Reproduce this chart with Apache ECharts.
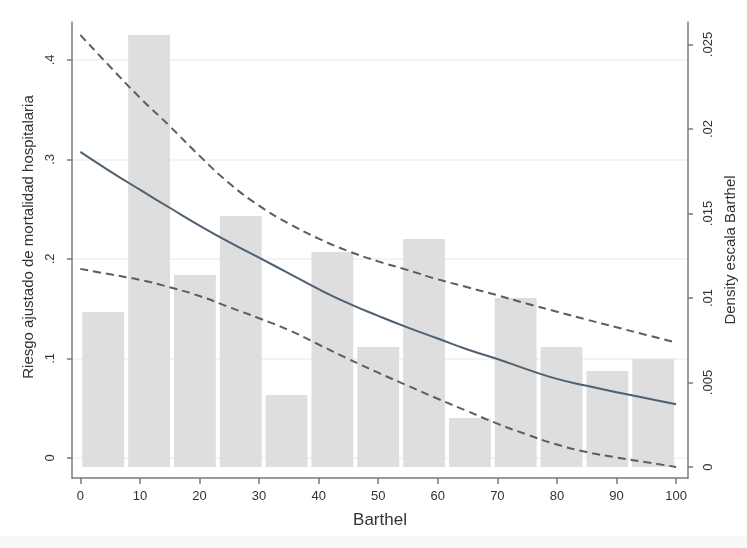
<!DOCTYPE html>
<html>
<head>
<meta charset="utf-8">
<script src="https://cdn.jsdelivr.net/npm/echarts@6/dist/echarts.min.js"></script>
<style>
html,body{margin:0;padding:0;background:#fff;}
#c{width:747px;height:548px;}
</style>
</head>
<body>
<div id="c"></div>
<script>
// Histogram bins of Barthel (13 bins, 0-100)
const binEdges = [0, 7.69, 15.38, 23.08, 30.77, 38.46, 46.15, 53.85, 61.54, 69.23, 76.92, 84.62, 92.31, 100];
const density = [0.00917, 0.02556, 0.01136, 0.01485, 0.00426, 0.01272, 0.0071, 0.01349, 0.0029, 0.0100, 0.0071, 0.00568, 0.00639];

// Adjusted risk curve and confidence bounds (read every 5 Barthel points)
const barthel = [0, 5, 10, 15, 20, 25, 30, 35, 40, 45, 50, 55, 60, 65, 70, 75, 80, 85, 90, 95, 100];
const riskFit = [0.3075, 0.288, 0.2695, 0.2514, 0.2335, 0.2168, 0.2012, 0.1855, 0.1696, 0.1553, 0.1428, 0.131, 0.120, 0.109, 0.0995, 0.089, 0.0795, 0.0725, 0.066, 0.060, 0.054];
const riskUpper = [0.425, 0.393, 0.362, 0.3334, 0.3036, 0.276, 0.2535, 0.2355, 0.2204, 0.2078, 0.1975, 0.1887, 0.1795, 0.1715, 0.1635, 0.155, 0.147, 0.139, 0.1313, 0.1236, 0.116];
const riskLower = [0.190, 0.1845, 0.179, 0.1715, 0.1627, 0.1515, 0.1404, 0.1285, 0.114, 0.0995, 0.0857, 0.0725, 0.0595, 0.047, 0.0345, 0.0235, 0.0135, 0.006, 0.0005, -0.0043, -0.009];

// Tick labels
const xTicks = [0, 10, 20, 30, 40, 50, 60, 70, 80, 90, 100];
const leftTicks = [0, 0.1, 0.2, 0.3, 0.4];
const rightTicks = [0, 0.005, 0.01, 0.015, 0.02, 0.025];

const fmt = v => (v === 0 ? '0' : String(v).replace(/^0\./, '.'));

const bars = density.map((d, i) => [binEdges[i], binEdges[i + 1], d]);
const pairs = arr => barthel.map((x, i) => [x, arr[i]]);

const chart = echarts.init(document.getElementById('c'));
const txt = '#333';
const axisCol = '#7a7a7a';
const FONT = 'Liberation Sans, Arial, sans-serif';

chart.setOption({
  animation: false,
  backgroundColor: '#fff',
  graphic: [
    { type: 'rect', left: 0, top: 536, shape: { width: 747, height: 12 }, style: { fill: '#f8f8f8' }, silent: true, z: -10 }
  ],
  grid: { left: 72, right: 59, top: 22, bottom: 70, containLabel: false },
  xAxis: {
    type: 'value', min: -1.4, max: 102,
    name: 'Barthel', nameLocation: 'middle', nameGap: 34,
    nameTextStyle: { fontSize: 17, color: txt, fontFamily: FONT },
    axisLine: { show: true, onZero: false, lineStyle: { color: axisCol, width: 1.5 } },
    axisTick: { show: true, length: 6, lineStyle: { color: axisCol, width: 1.5 }, customValues: xTicks },
    axisLabel: { fontSize: 13, color: txt, fontFamily: FONT, margin: 12, customValues: xTicks, formatter: v => String(v) },
    splitLine: { show: false }
  },
  yAxis: [
    {
      type: 'value', min: -0.0201, max: 0.438, position: 'left',
      name: 'Riesgo ajustado de mortalidad hospitalaria', nameLocation: 'middle', nameGap: 32,
      nameTextStyle: { fontSize: 15, color: txt, fontFamily: FONT, padding: [0, 0, 0, 26] },
      axisLine: { show: true, onZero: false, lineStyle: { color: axisCol, width: 1.5 } },
      axisTick: { show: true, length: 5, lineStyle: { color: axisCol, width: 1.5 }, customValues: leftTicks },
      axisLabel: { fontSize: 13, color: txt, fontFamily: FONT, rotate: 90, margin: 15, customValues: leftTicks, formatter: fmt },
      splitLine: { show: true, lineStyle: { color: '#efefef', width: 1.5 } }
    },
    {
      type: 'value', min: -0.00065, max: 0.02633, position: 'right',
      name: 'Density escala Barthel', nameLocation: 'middle', nameGap: 23, nameRotate: 90,
      nameTextStyle: { fontSize: 15, color: txt, fontFamily: FONT },
      axisLine: { show: true, onZero: false, lineStyle: { color: axisCol, width: 1.5 } },
      axisTick: { show: true, length: 5, lineStyle: { color: axisCol, width: 1.5 }, customValues: rightTicks },
      axisLabel: { fontSize: 13, color: txt, fontFamily: FONT, rotate: 90, margin: 14, customValues: rightTicks, formatter: fmt },
      splitLine: { show: false }
    }
  ],
  series: [
    {
      type: 'custom', yAxisIndex: 1, data: bars, encode: { x: [0, 1], y: 2 },
      renderItem: (params, api) => {
        const p0 = api.coord([api.value(0), api.value(2)]);
        const p1 = api.coord([api.value(1), 0]);
        return { type: 'rect', shape: { x: p0[0] + 2, y: p0[1], width: p1[0] - p0[0] - 4, height: p1[1] - p0[1] },
                 style: { fill: '#dedede' } };
      },
      z: 1
    },
    { type: 'line', yAxisIndex: 0, data: pairs(riskUpper), smooth: true, symbol: 'none',
      lineStyle: { color: '#5a5e64', width: 2, type: [8, 5] }, z: 3 },
    { type: 'line', yAxisIndex: 0, data: pairs(riskLower), smooth: true, symbol: 'none',
      lineStyle: { color: '#5a5e64', width: 2, type: [8, 5] }, z: 3 },
    { type: 'line', yAxisIndex: 0, data: pairs(riskFit), smooth: true, symbol: 'none',
      lineStyle: { color: '#4f6070', width: 2 }, z: 4 }
  ]
});
</script>
</body>
</html>
